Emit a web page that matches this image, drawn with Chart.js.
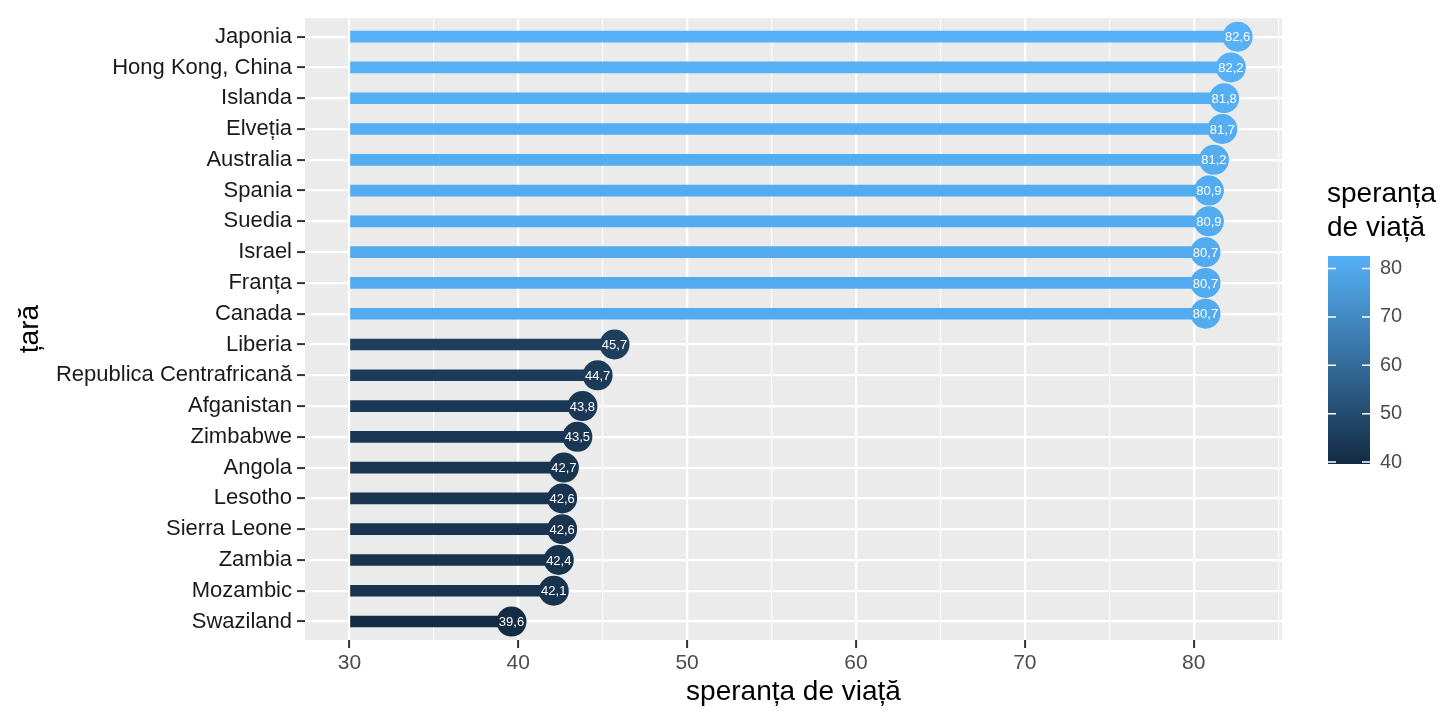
<!DOCTYPE html>
<html>
<head>
<meta charset="utf-8">
<script src="https://cdn.jsdelivr.net/npm/chart.js@4/dist/chart.umd.min.js"></script>
<style>
  html, body { margin: 0; padding: 0; background: #fff; }
  #wrap { width: 1440px; height: 720px; }
</style>
</head>
<body>
<div id="wrap"><canvas id="chart"></canvas></div>
<script>
const countries = ['Japonia', 'Hong Kong, China', 'Islanda', 'Elveția', 'Australia', 'Spania', 'Suedia', 'Israel', 'Franța', 'Canada',
    'Liberia', 'Republica Centrafricană', 'Afganistan', 'Zimbabwe', 'Angola', 'Lesotho', 'Sierra Leone', 'Zambia', 'Mozambic', 'Swaziland'];
const lifeExp = [82.6, 82.2, 81.8, 81.7, 81.2, 80.9, 80.9, 80.7, 80.7, 80.7,
    45.7, 44.7, 43.8, 43.5, 42.7, 42.6, 42.6, 42.4, 42.1, 39.6];
const xTicks = [30, 35, 40, 45, 50, 55, 60, 65, 70, 75, 80, 85];
const legendTicks = [40, 50, 60, 70, 80];

const FONT = '"Liberation Sans", Arial, sans-serif';
const lowColor = [0x13, 0x2B, 0x43];
const highColor = [0x56, 0xB1, 0xF7];
const vMin = Math.min(...lifeExp);
const vMax = Math.max(...lifeExp);

function colorFor(v) {
    const t = (v - vMin) / (vMax - vMin);
    const c = lowColor.map((lo, i) => Math.round(lo + (highColor[i] - lo) * t));
    return `rgb(${c[0]}, ${c[1]}, ${c[2]})`;
}

const colors = lifeExp.map(colorFor);
const fmt = v => v.toFixed(1).replace('.', ',');

// grey panel behind the plot
const panelBg = {
    id: 'panelBg',
    beforeDraw(chart) {
        const { ctx, chartArea: a } = chart;
        ctx.save();
        ctx.fillStyle = '#EBEBEB';
        ctx.fillRect(a.left, a.top, a.right - a.left, a.bottom - a.top);
        ctx.restore();
    }
};

// value labels inside the points
const pointLabels = {
    id: 'pointLabels',
    afterDatasetsDraw(chart) {
        const { ctx } = chart;
        const meta = chart.getDatasetMeta(1);
        ctx.save();
        ctx.fillStyle = '#fff';
        ctx.font = '13px ' + FONT;
        ctx.textAlign = 'center';
        ctx.textBaseline = 'middle';
        meta.data.forEach((pt, i) => {
            ctx.fillText(fmt(lifeExp[i]), pt.x, pt.y + 1);
        });
        ctx.restore();
    }
};

// colourbar legend on the right
const colorBar = {
    id: 'colorBar',
    afterDraw(chart) {
        const { ctx } = chart;
        const x = 1328, w = 42, top = 256, bottom = 464;
        const pos = v => bottom - (v - vMin) / (vMax - vMin) * (bottom - top);
        ctx.save();
        ctx.fillStyle = '#000';
        ctx.font = '28px ' + FONT;
        ctx.textAlign = 'left';
        ctx.textBaseline = 'middle';
        ctx.fillText('speranța', 1327, 194);
        ctx.fillText('de viață', 1327, 228);

        const g = ctx.createLinearGradient(0, bottom, 0, top);
        g.addColorStop(0, colorFor(vMin));
        g.addColorStop(1, colorFor(vMax));
        ctx.fillStyle = g;
        ctx.fillRect(x, top, w, bottom - top);

        ctx.strokeStyle = '#fff';
        ctx.lineWidth = 1.5;
        ctx.fillStyle = '#4D4D4D';
        ctx.font = '20px ' + FONT;
        legendTicks.forEach(v => {
            const y = pos(v);
            ctx.beginPath();
            ctx.moveTo(x, y); ctx.lineTo(x + 8, y);
            ctx.moveTo(x + w - 8, y); ctx.lineTo(x + w, y);
            ctx.stroke();
            ctx.fillText(String(v), x + w + 10, y);
        });
        ctx.restore();
    }
};

new Chart(document.getElementById('chart'), {
    type: 'bar',
    data: {
        datasets: [
            {
                type: 'bar',
                indexAxis: 'y',
                data: lifeExp.map((v, i) => ({ x: v, y: i })),
                base: 30,
                backgroundColor: colors,
                barThickness: 11,
                order: 2
            },
            {
                type: 'line',
                indexAxis: 'y',
                data: lifeExp.map((v, i) => ({ x: v, y: i })),
                showLine: false,
                pointRadius: 15,
                pointBackgroundColor: colors,
                pointBorderWidth: 0,
                order: 1
            }
        ]
    },
    options: {
        indexAxis: 'y',
        responsive: true,
        maintainAspectRatio: false,
        animation: false,
        layout: { padding: { top: 16, right: 158, bottom: 0, left: 0 } },
        plugins: {
            legend: { display: false },
            tooltip: { enabled: false }
        },
        scales: {
            x: {
                type: 'linear',
                min: 27.37,
                max: 85.23,
                beginAtZero: false,
                afterFit: s => { s.height = 80; },
                afterBuildTicks: s => { s.ticks = xTicks.map(v => ({ value: v })); },
                border: { display: false },
                grid: {
                    color: '#fff',
                    lineWidth: c => (c.tick && c.tick.value % 10 === 0 ? 2.2 : 1.1),
                    tickColor: c => (c.tick && c.tick.value % 10 === 0 ? '#333' : 'rgba(0,0,0,0)'),
                    tickLength: 8,
                    tickWidth: 2
                },
                ticks: {
                    color: '#4D4D4D',
                    font: { size: 21, family: FONT },
                    padding: 3,
                    maxRotation: 0,
                    autoSkip: false,
                    callback: v => (v % 10 === 0 && v <= 80 ? String(v) : '')
                },
                title: {
                    display: true,
                    text: 'speranța de viață',
                    color: '#000',
                    font: { size: 28, family: FONT },
                    padding: { top: 0, bottom: 11 }
                }
            },
            y: {
                type: 'linear',
                min: -0.6,
                max: 19.6,
                reverse: true,
                offset: false,
                afterFit: s => { s.width = 305; },
                afterBuildTicks: s => { s.ticks = countries.map((c, i) => ({ value: i })); },
                border: { display: false },
                grid: {
                    offset: false,
                    color: '#fff',
                    lineWidth: 2.2,
                    tickColor: '#333',
                    tickLength: 8,
                    tickWidth: 2
                },
                ticks: {
                    color: '#1A1A1A',
                    font: { size: 22, family: FONT },
                    padding: 5,
                    autoSkip: false,
                    callback: v => countries[v]
                },
                title: {
                    display: true,
                    text: 'țară',
                    color: '#000',
                    font: { size: 28, family: FONT },
                    padding: { top: 13, bottom: 0 }
                }
            }
        }
    },
    plugins: [panelBg, pointLabels, colorBar]
});
</script>
</body>
</html>
